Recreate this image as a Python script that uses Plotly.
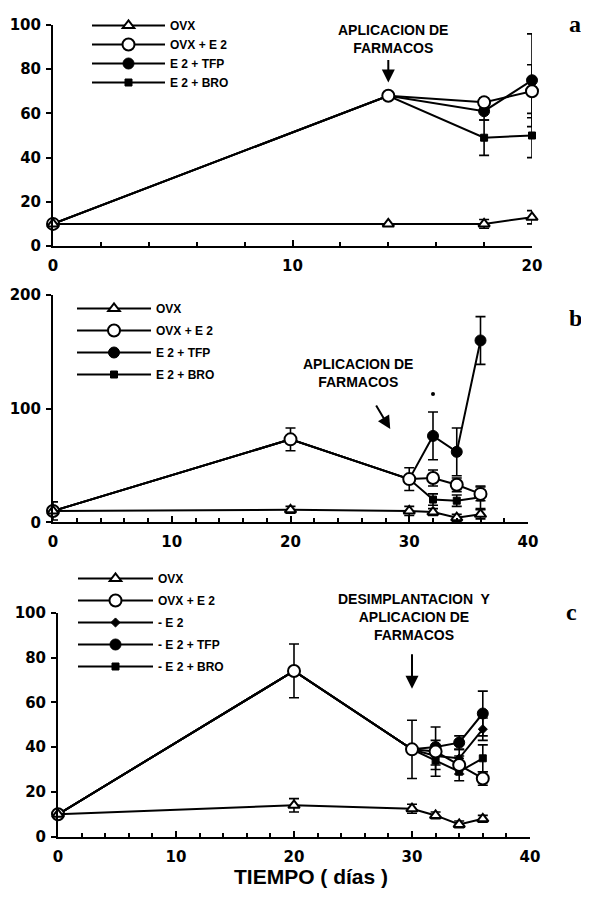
import plotly.graph_objects as go

# ---------------- data ----------------
# Panel a
a_days = [0, 14, 18, 20]
a_ovx = [10, 10, 10, 13]
a_ovx_err = [None, None, 2, 3]
a_ovxe2 = [10, 68, 65, 70]
a_ovxe2_err = [None, None, 2, 12]
a_tfp = [10, 68, 61, 75]
a_tfp_err = [None, None, 4, 21]
a_bro = [10, 68, 49, 50]
a_bro_err = [None, None, 8, 10]

# Panel b
b_days = [0, 20, 30, 32, 34, 36]
b_ovx = [10, 11, 10, 9, 4, 7]
b_ovx_err = [None, 3, 4, 3, 3, 4]
b_ovxe2 = [10, 73, 38, 39, 33, 25]
b_ovxe2_err = [8, 10, 10, 7, 6, 6]
b_tfp = [10, 73, 38, 76, 62, 160]
b_tfp_err = [None, None, None, 21, 21, 21]
b_bro = [10, 73, 38, 20, 19, 22]
b_bro_err = [None, None, None, 5, 5, 10]
b_sig_days = [32, 36]
b_sig_vals = [113, 201]

# Panel c
c_days = [0, 20, 30, 32, 34, 36]
c_ovx = [10, 14, 12.5, 9.5, 5.5, 8]
c_ovx_err = [None, 3, 2, 1.5, 1.5, 1.5]
c_ovxe2 = [10, 74, 39, 38, 32, 26]
c_ovxe2_err = [None, 12, 13, 11, 4, 3]
c_e2 = [10, 74, 39, 36, 35, 48]
c_e2_err = [None, None, None, 4, 4, 5]
c_tfp = [10, 74, 39, 40, 42, 55]
c_tfp_err = [None, None, None, 3, 3, 10]
c_bro = [10, 74, 39, 34, 29, 35]
c_bro_err = [None, None, None, 4, 4, 6]

labels_ab = ["OVX", "OVX + E 2", "E 2 + TFP", "E 2 + BRO"]
labels_c = ["OVX", "OVX + E 2", "- E 2", "- E 2 + TFP", "- E 2 + BRO"]

# ---------------- styles ----------------
BLACK = "black"
WIN_W, WIN_H = 589, 899
OFF = 8  # default page body margin
W, H = WIN_W - OFF, WIN_H - OFF

STY = {
    "ovx": dict(symbol="triangle-up", size=10, color="white", line=dict(color=BLACK, width=2)),
    "ovxe2": dict(symbol="circle", size=12, color="white", line=dict(color=BLACK, width=2)),
    "tfp": dict(symbol="circle", size=11, color=BLACK, line=dict(color=BLACK, width=1)),
    "bro": dict(symbol="square", size=7, color=BLACK, line=dict(color=BLACK, width=1)),
    "e2": dict(symbol="diamond", size=7, color=BLACK, line=dict(color=BLACK, width=1)),
}

fig = go.Figure()


def add(days, vals, err, name, key, xa, ya, leg, rank):
    fig.add_trace(go.Scatter(
        x=days, y=vals, name=name, mode="lines+markers",
        line=dict(color=BLACK, width=2),
        marker=STY[key],
        error_y=dict(type="data", array=err, color=BLACK, thickness=1.6, width=5),
        xaxis=xa, yaxis=ya, legend=leg, legendrank=rank, legendgroup=leg + name,
        cliponaxis=False,
    ))


# panel a (draw order: filled first, open on top)
add(a_days, a_bro, a_bro_err, labels_ab[3], "bro", "x", "y", "legend", 4)
add(a_days, a_tfp, a_tfp_err, labels_ab[2], "tfp", "x", "y", "legend", 3)
add(a_days, a_ovxe2, a_ovxe2_err, labels_ab[1], "ovxe2", "x", "y", "legend", 2)
add(a_days, a_ovx, a_ovx_err, labels_ab[0], "ovx", "x", "y", "legend", 1)

# panel b
add(b_days, b_bro, b_bro_err, labels_ab[3], "bro", "x2", "y2", "legend2", 4)
add(b_days, b_tfp, b_tfp_err, labels_ab[2], "tfp", "x2", "y2", "legend2", 3)
add(b_days, b_ovxe2, b_ovxe2_err, labels_ab[1], "ovxe2", "x2", "y2", "legend2", 2)
add(b_days, b_ovx, b_ovx_err, labels_ab[0], "ovx", "x2", "y2", "legend2", 1)
fig.add_trace(go.Scatter(
    x=b_sig_days, y=b_sig_vals, mode="markers", showlegend=False,
    marker=dict(symbol="circle", size=4, color=BLACK),
    xaxis="x2", yaxis="y2", cliponaxis=False,
))

# panel c
add(c_days, c_bro, c_bro_err, labels_c[4], "bro", "x3", "y3", "legend3", 5)
add(c_days, c_tfp, c_tfp_err, labels_c[3], "tfp", "x3", "y3", "legend3", 4)
add(c_days, c_e2, c_e2_err, labels_c[2], "e2", "x3", "y3", "legend3", 3)
add(c_days, c_ovxe2, c_ovxe2_err, labels_c[1], "ovxe2", "x3", "y3", "legend3", 2)
add(c_days, c_ovx, c_ovx_err, labels_c[0], "ovx", "x3", "y3", "legend3", 1)

TICKFONT = dict(family="DejaVu Sans", size=15, color=BLACK, weight="bold")


def xax(domain, rng, anchor):
    return dict(
        domain=domain, range=rng, anchor=anchor, automargin=False,
        showline=True, linecolor=BLACK, linewidth=2, showgrid=False, zeroline=False,
        ticks="inside", ticklen=6, tickwidth=2, tickcolor=BLACK, dtick=10,
        minor=dict(dtick=2, ticks="inside", ticklen=4, tickwidth=1.5, tickcolor=BLACK),
        tickfont=TICKFONT, ticklabelstandoff=5,
    )


def yax(domain, rng, dtick, anchor):
    return dict(
        domain=domain, range=rng, anchor=anchor, automargin=False,
        showline=True, linecolor=BLACK, linewidth=2, showgrid=False, zeroline=False,
        ticks="outside", ticklen=5, tickwidth=2, tickcolor=BLACK, dtick=dtick,
        tickfont=TICKFONT, ticklabelstandoff=2,
    )


def px_x(p):
    return (p - OFF) / W


def px_y(p):
    return 1 - (p - OFF) / H


LEGFONT = dict(family="Liberation Sans", size=12, color=BLACK, weight="bold")


def legend(x, y, gap, iw):
    return dict(
        x=x, y=y, xanchor="left", yanchor="top", bgcolor="rgba(0,0,0,0)",
        font=LEGFONT, tracegroupgap=gap, itemwidth=iw, traceorder="grouped",
    )


ANNFONT = dict(family="Liberation Sans", size=14, color=BLACK, weight="bold")
LETTERFONT = dict(family="Liberation Serif", size=24, color=BLACK, weight="bold")

fig.update_layout(
    width=W, height=H, margin=dict(l=0, r=0, t=0, b=0, autoexpand=False),
    paper_bgcolor="white", plot_bgcolor="white",
    xaxis=xax([px_x(53), px_x(532)], [0, 20], "y"),
    yaxis=yax([px_y(246), px_y(25)], [0, 100], 20, "x"),
    xaxis2=xax([px_x(53), px_x(528)], [0, 40], "y2"),
    yaxis2=yax([px_y(522.3), px_y(295)], [0, 200], 100, "x2"),
    xaxis3=xax([px_x(58), px_x(530)], [0, 40], "y3"),
    yaxis3=yax([px_y(836.7), px_y(612.7)], [0, 100], 20, "x3"),
    legend=legend(px_x(87), px_y(11), 0, 73),
    legend2=legend(px_x(72), px_y(294), 3, 74),
    legend3=legend(px_x(73), px_y(564), 3, 75),
    showlegend=True,
)

# text annotations and arrows
MID = dict(xanchor="center", yanchor="middle", showarrow=False)
fig.add_annotation(x=px_x(311), y=px_y(876), xref="paper", yref="paper",
                   text="TIEMPO ( días )", font=dict(family="Liberation Sans", size=21,
                                                     color=BLACK, weight="bold"), **MID)

fig.add_annotation(x=px_x(393), y=px_y(39), xref="paper", yref="paper",
                   text="APLICACION DE<br>FARMACOS", font=ANNFONT, **MID)
fig.add_annotation(x=14, y=74, xref="x", yref="y", ax=0, ay=-24, text="",
                   showarrow=True, arrowhead=2, arrowsize=1.3, arrowwidth=2, arrowcolor=BLACK)

fig.add_annotation(x=px_x(358), y=px_y(373), xref="paper", yref="paper",
                   text="APLICACION DE<br>FARMACOS", font=ANNFONT, **MID)
fig.add_annotation(x=28.4, y=82, xref="x2", yref="y2", ax=-15, ay=-25, text="",
                   showarrow=True, arrowhead=2, arrowsize=1.3, arrowwidth=2, arrowcolor=BLACK)

fig.add_annotation(x=px_x(414), y=px_y(617), xref="paper", yref="paper",
                   text="DESIMPLANTACION  Y<br>APLICACION DE<br>FARMACOS", font=ANNFONT, **MID)
fig.add_annotation(x=30, y=66, xref="x3", yref="y3", ax=0, ay=-36, text="",
                   showarrow=True, arrowhead=2, arrowsize=1.3, arrowwidth=2, arrowcolor=BLACK)

for letter, xx, yy in (("a", 575, 24), ("b", 575, 318), ("c", 571, 612)):
    fig.add_annotation(x=px_x(xx), y=px_y(yy), xref="paper", yref="paper",
                       text=letter, font=LETTERFONT, **MID)

fig.write_html("out.html")
